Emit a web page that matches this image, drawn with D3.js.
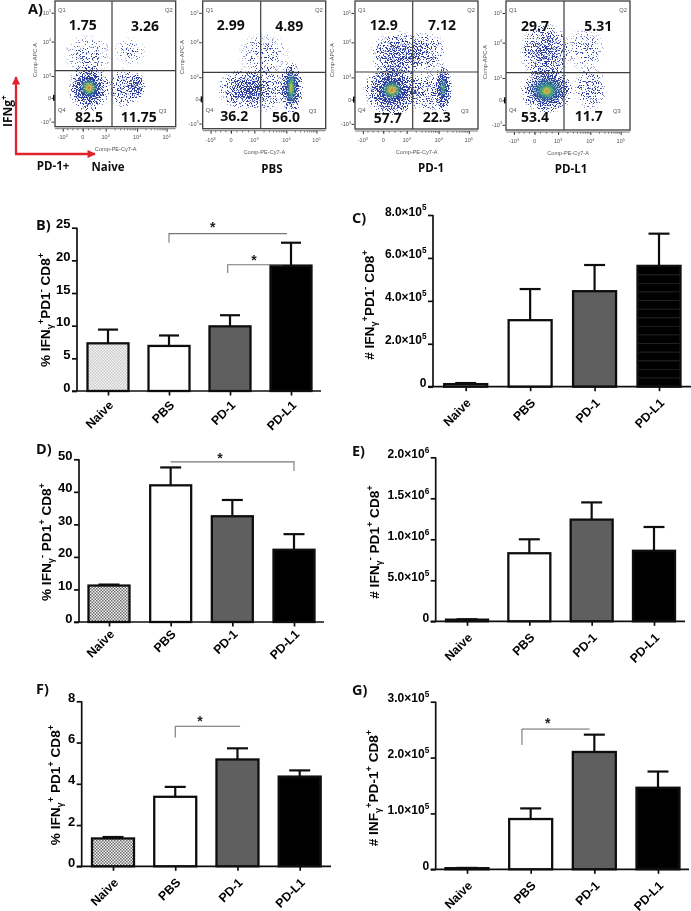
<!DOCTYPE html>
<html><head><meta charset="utf-8">
<script src="https://cdnjs.cloudflare.com/ajax/libs/d3/7.8.5/d3.min.js"></script>
<style>
html,body{margin:0;padding:0;background:#fff}
svg{display:block}
</style></head><body>
<svg id="fig" width="691" height="911"></svg>
<script>
// ---------- Bar panel data ----------
const categories = ["Naive", "PBS", "PD-1", "PD-L1"];
const panelB_values = [7.3, 6.9, 9.9, 19.2];
const panelB_tops   = [9.4, 8.5, 11.6, 22.7];
const panelC_values = [0.12e5, 3.1e5, 4.45e5, 5.63e5];
const panelC_tops   = [0.17e5, 4.55e5, 5.67e5, 7.13e5];
const panelD_values = [11.2, 42, 32.5, 22.2];
const panelD_tops   = [11.5, 47.5, 37.5, 27];
const panelE_values = [0.02e6, 0.83e6, 1.24e6, 0.86e6];
const panelE_tops   = [0.025e6, 1.0e6, 1.45e6, 1.15e6];
const panelF_values = [1.35, 3.37, 5.18, 4.35];
const panelF_tops   = [1.42, 3.85, 5.72, 4.65];
const panelG_values = [0.02e5, 0.9e5, 2.1e5, 1.46e5];
const panelG_tops   = [0.025e5, 1.09e5, 2.41e5, 1.75e5];
const ticksPct25 = [0, 5, 10, 15, 20, 25];
const ticksPct50 = [0, 10, 20, 30, 40, 50];
const ticksPct8  = [0, 2, 4, 6, 8];
const ticksC = [0, 2e5, 4e5, 6e5, 8e5];
const ticksE = [0, 5e5, 1e6, 1.5e6, 2e6];
const ticksG = [0, 1e5, 2e5, 3e5];
const labelsC = ["0", "2.0×10^5", "4.0×10^5", "6.0×10^5", "8.0×10^5"];
const labelsE = ["0", "5.0×10^5", "1.0×10^6", "1.5×10^6", "2.0×10^6"];
const labelsG = ["0", "1.0×10^5", "2.0×10^5", "3.0×10^5"];

// ---------- Flow plot data ----------
const flowTitles = ["Naive", "PBS", "PD-1", "PD-L1"];
const flowQ1 = ["1.75", "2.99", "12.9", "29.7"];
const flowQ2 = ["3.26", "4.89", "7.12", "5.31"];
const flowQ4 = ["82.5", "36.2", "57.7", "53.4"];
const flowQ3 = ["11.75", "56.0", "22.3", "11.7"];
const flowTicks = [-1, 0, 1, 2, 3];   // -10^3, 0, 10^3, 10^4, 10^5
const flowTickLabels = ["-10^3", "0", "10^3", "10^4", "10^5"];
// population estimates: [x, y, rx, ry] in decade units of the axes
const popsNaive = {
  hot:   [[0.27, 0.46, 0.42, 0.45]],
  warm:  [],
  blue:  [[0.27, 0.46, 0.95, 1.0]],
  mid:   [[2.0, 0.54, 0.3, 0.6]],
  sparse:[[1.615, 0.46, 0.62, 0.9]],
  faint: [[0.23, 1.61, 1.1, 0.65], [1.77, 1.72, 0.55, 0.45]]
};
const popsPBS = {
  hot:   [[2.16, 0.52, 0.12, 0.55]],
  warm:  [[2.16, 0.52, 0.2, 0.8]],
  blue:  [[2.16, 0.5, 0.42, 1.05]],
  mid:   [[0.53, 0.46, 1.1, 0.85]],
  sparse:[[1.3, 0.46, 0.85, 0.95]],
  faint: [[1.3, 1.65, 0.95, 0.7]]
};
const popsPD1 = {
  hot:   [[0.37, 0.43, 0.5, 0.45]],
  warm:  [[2.15, 0.52, 0.14, 0.5]],
  blue:  [[0.37, 0.43, 1.2, 1.05], [2.15, 0.52, 0.3, 1.0]],
  mid:   [[0.63, 1.65, 1.15, 0.75]],
  sparse:[[1.58, 1.75, 0.72, 0.65], [1.6, 0.35, 0.72, 0.9]],
  faint: []
};
const popsPDL1 = {
  hot:   [[0.52, 0.42, 0.42, 0.38]],
  warm:  [[0.52, 0.46, 0.72, 0.6]],
  blue:  [[0.52, 0.46, 1.1, 0.95]],
  mid:   [[0.45, 1.75, 1.05, 0.95]],
  sparse:[[2.0, 0.52, 0.55, 0.9]],
  faint: [[1.85, 1.8, 0.68, 0.7]]
};
const flowPops = [popsNaive, popsPBS, popsPD1, popsPDL1];

// ---------- Helpers ----------
const svg = d3.select("#fig");
const defs = svg.append("defs");
const ARIAL = "'Liberation Sans', Arial, sans-serif";
const OPEN = "'Open Sans', sans-serif";

function rich(sel, str) {
  sel.text(null);
  const parts = [];
  let buf = "";
  for (let i = 0; i < str.length; i++) {
    const c = str[i];
    if ((c === "^" || c === "_") && i + 1 < str.length) {
      if (buf) { parts.push([buf, 0]); buf = ""; }
      parts.push([str[++i], c === "^" ? -1 : 1]);
    } else buf += c;
  }
  if (buf) parts.push([buf, 0]);
  sel.each(function () {
    const t = d3.select(this);
    let prev = 0;
    parts.forEach(([s, m]) => {
      const fs = parseFloat(t.attr("font-size")) || 12;
      const off = m === -1 ? -0.42 * fs : m === 1 ? 0.22 * fs : 0;
      t.append("tspan").attr("dy", (off - prev).toFixed(2))
        .attr("font-size", m ? fs * 0.68 : fs).text(s);
      prev = off;
    });
  });
}

function dotPattern(id, c) {
  const p = defs.append("pattern").attr("id", id).attr("patternUnits", "userSpaceOnUse")
    .attr("width", 3).attr("height", 3);
  p.append("rect").attr("width", 3).attr("height", 3).attr("fill", "#f6f6f6");
  p.append("rect").attr("width", 1.5).attr("height", 1.5).attr("fill", c);
  p.append("rect").attr("x", 1.5).attr("y", 1.5).attr("width", 1.5).attr("height", 1.5).attr("fill", c);
}
dotPattern("dotLight", "#c8c8c8");
dotPattern("dotDark", "#6a6a6a");
const hatch = defs.append("pattern").attr("id", "hatch").attr("patternUnits", "userSpaceOnUse")
  .attr("width", 8).attr("height", 8.6);
hatch.append("rect").attr("width", 8).attr("height", 8.6).attr("fill", "#000");
hatch.append("rect").attr("y", 7.8).attr("width", 8).attr("height", 0.6).attr("fill", "#3a3a3a");

function grad(id, stops) {
  const g = defs.append("radialGradient").attr("id", id);
  stops.forEach(s => g.append("stop").attr("offset", s[0]).attr("stop-color", s[1]).attr("stop-opacity", s[2]));
}
grad("gHot", [[0, "#d86a34", .95], [.2, "#dcc044", .9], [.45, "#6fb458", .8], [.72, "#2f8f96", .45], [1, "#2a50a4", 0]]);
grad("gWarm", [[0, "#58b060", .85], [.45, "#3a9a8a", .6], [1, "#2a50a4", 0]]);
// density maps: alpha = how likely a pixel holds an event
const dens = (id, a) => grad(id, [[0, "#000", a], [.35, "#000", a * .88], [.7, "#000", a * .5], [.9, "#000", a * .16], [1, "#000", 0]]);
dens("gBlue", .9); dens("gMid", .62); dens("gSparse", .42); dens("gFaint", .26);

// events as blue specks: density alpha + noise, thresholded
const sp = defs.append("filter").attr("id", "speckle").attr("filterUnits", "userSpaceOnUse")
  .attr("x", 0).attr("y", 0).attr("width", 691).attr("height", 180).attr("color-interpolation-filters", "sRGB");
sp.append("feTurbulence").attr("type", "fractalNoise").attr("baseFrequency", 0.8)
  .attr("numOctaves", 2).attr("seed", 7).attr("result", "n");
sp.append("feColorMatrix").attr("in", "n").attr("type", "matrix")
  .attr("values", "0 0 0 0 0  0 0 0 0 0  0 0 0 0 0  3 0 0 0 -1.0").attr("result", "na");
sp.append("feComposite").attr("in", "SourceAlpha").attr("in2", "na").attr("operator", "arithmetic")
  .attr("k1", 0).attr("k2", 1).attr("k3", 1).attr("k4", -1).attr("result", "sum");
sp.append("feColorMatrix").attr("in", "sum").attr("type", "matrix")
  .attr("values", "0 0 0 0 0  0 0 0 0 0  0 0 0 0 0  0 0 0 5 0").attr("result", "mask");
sp.append("feFlood").attr("flood-color", "#2c3d9e").attr("flood-opacity", 1).attr("result", "col");
sp.append("feComposite").attr("in", "col").attr("in2", "mask").attr("operator", "in").attr("result", "dots");
sp.append("feGaussianBlur").attr("in", "dots").attr("stdDeviation", 0.35);

const soft = defs.append("filter").attr("id", "soft").attr("filterUnits", "userSpaceOnUse")
  .attr("x", 0).attr("y", 0).attr("width", 691).attr("height", 911);
soft.append("feGaussianBlur").attr("stdDeviation", 0.3);

const root = svg.append("g").attr("filter", "url(#soft)");
root.append("rect").attr("width", 691).attr("height", 911).attr("fill", "#fff");

// ---------- Panel A ----------
const flowLayout = [
  {x0: 55,    w: 120.7, h: 125.7, ly: 139, xl: 151, ax: 37,    ay: 60, title: 108, ty: 171},
  {x0: 202.7, w: 123,   h: 127.7, ly: 142, xl: 154, ax: 184,   ay: 57, title: 272, ty: 173},
  {x0: 355,   w: 123,   h: 128,   ly: 142, xl: 154, ax: 334,   ay: 60, title: 431, ty: 172},
  {x0: 506,   w: 124,   h: 129,   ly: 143, xl: 155, ax: 486.7, ay: 62, title: 571, ty: 173}
];
const numPos = [
  [[82.7, 30], [145, 30.5], [89, 122], [138.7, 122]],
  [[230.7, 30], [289.3, 31], [234.3, 121], [286, 122]],
  [[383.7, 30], [442, 30], [387.7, 123], [436.7, 122]],
  [[535, 31], [598.3, 31], [535, 122], [588.7, 121]]
];
const crossV = [112, 260.7, 412.7, 564];
const crossH = [70.7, 72.3, 72, 72.7];
const fxFrac = [.064, .23, .42, .68, .925];
const fyFrac = [.96, .77, .597, .323, .093];
const flowMinor = d3.merge([1, 2].map(d => d3.range(2, 10).map(k => d + Math.log10(k)))).concat(d3.range(-0.75, 1, 0.25));
const flowKinds = {hot: "gHot", warm: "gWarm", blue: "gBlue", mid: "gMid", sparse: "gSparse", faint: "gFaint"};

flowLayout.forEach((L, i) => {
  const y0 = 1;
  const fx = d3.scaleLinear().domain(flowTicks).range(fxFrac.map(f => L.x0 + f * L.w));
  const fy = d3.scaleLinear().domain(flowTicks).range(fyFrac.map(f => y0 + f * L.h));
  const g = root.append("g");
  const clipId = "clip" + i;
  defs.append("clipPath").attr("id", clipId).append("rect")
    .attr("x", L.x0).attr("y", y0).attr("width", L.w).attr("height", L.h);
  const clouds = g.append("g").attr("clip-path", `url(#${clipId})`);
  const speck = clouds.append("g").attr("filter", "url(#speckle)");
  const core = clouds.append("g");
  const pops = flowPops[i];
  const ell = (sel, arr, gr) => sel.selectAll(null).data(arr).join("ellipse")
    .attr("cx", d => fx(d[0])).attr("cy", d => fy(d[1]))
    .attr("rx", d => Math.abs(fx(d[0] + d[2]) - fx(d[0] - d[2])) / 2)
    .attr("ry", d => Math.abs(fy(d[1] + d[3]) - fy(d[1] - d[3])) / 2)
    .attr("fill", `url(#${gr})`);
  ["faint", "sparse", "mid", "blue"].forEach(k => { if (pops[k]) ell(speck.append("g"), pops[k], flowKinds[k]); });
  ["warm", "hot"].forEach(k => { if (pops[k]) ell(core.append("g"), pops[k], flowKinds[k]); });
  g.append("rect").attr("x", L.x0).attr("y", y0).attr("width", L.w).attr("height", L.h)
    .attr("fill", "none").attr("stroke", "#3c3c40").attr("stroke-width", 1.3);
  g.append("line").attr("x1", crossV[i]).attr("x2", crossV[i]).attr("y1", y0).attr("y2", y0 + L.h)
    .attr("stroke", "#3c3c40").attr("stroke-width", 1.2);
  g.append("line").attr("x1", L.x0).attr("x2", L.x0 + L.w).attr("y1", crossH[i]).attr("y2", crossH[i])
    .attr("stroke", "#3c3c40").attr("stroke-width", 1.2);
  const bottom = y0 + L.h + 2;
  const ax = g.append("g").attr("transform", `translate(0,${bottom})`)
    .call(d3.axisBottom(fx).tickValues(flowTicks).tickSize(3).tickFormat(""));
  ax.select(".domain").attr("stroke", "#555").attr("stroke-width", .8).attr("d", `M${L.x0},0H${L.x0 + L.w}`);
  ax.selectAll(".tick line").attr("stroke", "#333").attr("stroke-width", 1);
  g.append("g").attr("transform", `translate(0,${bottom})`).selectAll("line").data(flowMinor).join("line")
    .attr("x1", d => fx(d)).attr("x2", d => fx(d)).attr("y2", 1.7).attr("stroke", "#444").attr("stroke-width", .7);
  const ay = g.append("g").attr("transform", `translate(${L.x0 - 1},0)`)
    .call(d3.axisLeft(fy).tickValues(flowTicks).tickSize(2.5).tickFormat(""));
  ay.select(".domain").remove();
  ay.selectAll(".tick line").attr("stroke", "#333").attr("stroke-width", 1);
  g.append("rect").attr("x", L.x0 - 2).attr("y", fy(0) - 3).attr("width", 1.6).attr("height", 6).attr("fill", "#111");
  g.selectAll(null).data(flowTicks).join("text")
    .attr("x", d => fx(d)).attr("y", L.ly).attr("text-anchor", "middle")
    .attr("font-size", 5.6).attr("font-family", ARIAL).attr("fill", "#555")
    .each(function (d, k) { rich(d3.select(this), flowTickLabels[k]); });
  g.selectAll(null).data(flowTicks).join("text")
    .attr("x", L.x0 - 4).attr("y", d => fy(d) + 2).attr("text-anchor", "end")
    .attr("font-size", 5.6).attr("font-family", ARIAL).attr("fill", "#555")
    .each(function (d, k) { rich(d3.select(this), flowTickLabels[k]); });
  g.append("text").attr("x", fx(1) + 10).attr("y", L.xl).attr("text-anchor", "middle")
    .attr("font-size", 5.6).attr("font-family", ARIAL).attr("fill", "#555").text("Comp-PE-Cy7-A");
  g.append("text").attr("transform", `translate(${L.ax},${L.ay}) rotate(-90)`).attr("text-anchor", "middle")
    .attr("font-size", 5.6).attr("font-family", ARIAL).attr("fill", "#555").text("Comp-APC-A");
  [["Q1", L.x0 + 3, 12, "start"], ["Q2", L.x0 + L.w - 3, 12, "end"],
   ["Q4", L.x0 + 3, 112, "start"], ["Q3", L.x0 + L.w - 17, 113, "start"]].forEach(q => {
    g.append("text").attr("x", q[1]).attr("y", q[2]).attr("text-anchor", q[3])
      .attr("font-size", 5.8).attr("font-family", ARIAL).attr("fill", "#555").text(q[0]);
  });
  [flowQ1[i], flowQ2[i], flowQ4[i], flowQ3[i]].forEach((s, k) => {
    g.append("text").attr("x", numPos[i][k][0]).attr("y", numPos[i][k][1]).attr("text-anchor", "middle")
      .attr("font-size", 14).attr("font-weight", 700).attr("font-family", OPEN).attr("fill", "#111").text(s);
  });
  g.append("text").attr("x", L.title).attr("y", L.ty).attr("text-anchor", "middle")
    .attr("font-size", 11.5).attr("font-weight", 700).attr("font-family", OPEN).attr("fill", "#111").text(flowTitles[i]);
});

defs.append("marker").attr("id", "arr").attr("viewBox", "0 0 10 10").attr("refX", 9).attr("refY", 5)
  .attr("markerWidth", 4.5).attr("markerHeight", 3.6).attr("orient", "auto")
  .append("path").attr("d", "M0,0L10,5L0,10z").attr("fill", "#e0212a");
root.append("path").attr("d", d3.line()([[16, 154], [16, 77]])).attr("stroke", "#e0212a").attr("stroke-width", 2.3)
  .attr("fill", "none").attr("marker-end", "url(#arr)");
root.append("path").attr("d", d3.line()([[15, 154], [95, 154]])).attr("stroke", "#e0212a").attr("stroke-width", 2.3)
  .attr("fill", "none").attr("marker-end", "url(#arr)");
rich(root.append("text").attr("transform", "translate(12,127) rotate(-90)")
  .attr("font-size", 12).attr("font-weight", 700).attr("font-family", OPEN).attr("fill", "#111"), "IFNg^+");
root.append("text").attr("x", 53).attr("y", 170).attr("text-anchor", "middle")
  .attr("font-size", 11.5).attr("font-weight", 700).attr("font-family", OPEN).attr("fill", "#111").text("PD-1+");

// ---------- Panel letters ----------
[["A)", 28, 14], ["B)", 36, 230], ["C)", 352, 223], ["D)", 36, 454], ["E)", 352, 456], ["F)", 36, 694], ["G)", 352, 695]]
  .forEach(d => root.append("text").attr("x", d[1]).attr("y", d[2]).attr("font-size", 14.5).attr("font-weight", 700)
    .attr("font-family", OPEN).attr("fill", "#111").text(d[0]));

// ---------- Bar panels ----------
const barPanels = [
  {vals: panelB_values, tops: panelB_tops, domain: 25, ticks: ticksPct25, labels: null, ax: 77, end: 321, top: 227.7, zero: 391,
   xr: [108, 291], bw: 41, cap: 20, title: "% IFN_γ^+PD1^- CD8^+", tx: 50, ty: 310, dot: "dotLight", xdy: 15,
   br: [{a: 1, b: 3, db: -4, y: 24.1, dropA: 22.7}, {a: 2, da: -2.3, b: 3, db: -8, y: 19.33, dropA: 18.06}], st: [[212.7, 228], [254, 261]]},
  {vals: panelC_values, tops: panelC_tops, domain: 8e5, ticks: ticksC, labels: labelsC, ax: 433, end: 691, top: 215, zero: 386.7,
   xr: [465.7, 659], bw: 43, cap: 21, title: "# IFN_γ^+PD1^- CD8^+", tx: 374, ty: 305, dot: "dotDark", xdy: 17, hatch: true, br: [], st: []},
  {vals: panelD_values, tops: panelD_tops, domain: 50, ticks: ticksPct50, labels: null, ax: 79, end: 324, top: 459.3, zero: 622,
   xr: [109, 294], bw: 41, cap: 21, title: "% IFN_γ^- PD1^+ CD8^+", tx: 51, ty: 542, dot: "dotDark", xdy: 13,
   br: [{a: 1, b: 3, y: 49.2, dropB: 46.4}], st: [[220, 459]]},
  {vals: panelE_values, tops: panelE_tops, domain: 2e6, ticks: ticksE, labels: labelsE, ax: 435.7, end: 685, top: 457.3, zero: 621.3,
   xr: [467, 654], bw: 42, cap: 21, title: "# IFN_γ^- PD1^+ CD8^+", tx: 379, ty: 542, dot: "dotDark", xdy: 17, br: [], st: []},
  {vals: panelF_values, tops: panelF_tops, domain: 8, ticks: ticksPct8, labels: null, ax: 81.7, end: 331, top: 701.3, zero: 866.3,
   xr: [113, 299.7], bw: 42, cap: 21, title: "% IFN_γ^+ PD1^+ CD8^+", tx: 60, ty: 785, dot: "dotDark", xdy: 17,
   br: [{a: 1, b: 2, db: 2.6, y: 6.79, dropA: 6.24, thin: true}], st: [[200, 722]]},
  {vals: panelG_values, tops: panelG_tops, domain: 3e5, ticks: ticksG, labels: labelsG, ax: 435.7, end: 689, top: 701.7, zero: 869.3,
   xr: [467, 658], bw: 43, cap: 21, title: "# INF_γ^+PD-1^+ CD8^+", tx: 378, ty: 788, dot: "dotDark", xdy: 17,
   br: [{a: 1, da: -8.7, b: 2, db: -4.7, y: 2.51e5, dropA: 2.225e5, thin: true}], st: [[547.7, 724]]}
];

barPanels.forEach(P => {
  const g = root.append("g");
  const y = d3.scaleLinear().domain([0, P.domain]).range([P.zero, P.top]);
  const x = d3.scalePoint().domain(d3.range(categories.length)).range(P.xr);
  const fills = [`url(#${P.dot})`, "#fff", "#5e5e5e", P.hatch ? "url(#hatch)" : "#000"];
  const lfs = P.labels ? 12 : 13;
  g.selectAll(null).data(P.vals).join("line")
    .attr("x1", (d, i) => x(i)).attr("x2", (d, i) => x(i))
    .attr("y1", d => y(d)).attr("y2", (d, i) => y(P.tops[i]))
    .attr("stroke", "#111").attr("stroke-width", 2.2);
  g.selectAll(null).data(P.tops).join("line")
    .attr("x1", (d, i) => x(i) - P.cap / 2).attr("x2", (d, i) => x(i) + P.cap / 2)
    .attr("y1", d => y(d)).attr("y2", d => y(d))
    .attr("stroke", "#111").attr("stroke-width", 2.2);
  g.selectAll(null).data(P.vals).join("rect")
    .attr("x", (d, i) => x(i) - P.bw / 2).attr("width", P.bw)
    .attr("y", d => y(d)).attr("height", d => y(0) - y(d))
    .attr("fill", (d, i) => fills[i]).attr("stroke", "#111").attr("stroke-width", 2.3);
  const ya = g.append("g").attr("transform", `translate(${P.ax},0)`)
    .call(d3.axisLeft(y).tickValues(P.ticks).tickSize(5).tickPadding(1.5)
      .tickFormat((d, i) => P.labels ? P.labels[i] : d));
  ya.select(".domain").attr("stroke", "#111").attr("stroke-width", 1.7).attr("d", `M0,${P.zero}V${P.top}`);
  ya.selectAll(".tick line").attr("stroke", "#111").attr("stroke-width", 1.7);
  ya.selectAll(".tick text").attr("font-size", lfs).attr("font-weight", 700).attr("font-family", ARIAL).attr("fill", "#000")
    .each(function (d, i) { rich(d3.select(this), P.labels ? P.labels[i] : String(d)); });
  const xa = g.append("g").attr("transform", `translate(0,${P.zero})`)
    .call(d3.axisBottom(x).tickSize(4.5).tickFormat(""));
  xa.select(".domain").attr("stroke", "#111").attr("stroke-width", 1.7).attr("d", `M${P.ax - 5},0H${P.end}`);
  xa.selectAll(".tick line").attr("stroke", "#111").attr("stroke-width", 1.7);
  g.selectAll(null).data(categories).join("text")
    .attr("transform", (d, i) => `translate(${x(i) + 6},${P.zero + P.xdy}) rotate(-45)`)
    .attr("text-anchor", "end").attr("font-size", 12.3).attr("font-weight", 700).attr("font-family", ARIAL).attr("fill", "#000")
    .text(d => d);
  rich(g.append("text").attr("transform", `translate(${P.tx},${P.ty}) rotate(-90)`).attr("text-anchor", "middle")
    .attr("font-size", 13.6).attr("font-weight", 700).attr("font-family", ARIAL).attr("fill", "#000"), P.title);
  P.br.forEach(b => {
    const xa_ = x(b.a) + (b.da || 0), xb_ = x(b.b) + (b.db || 0);
    const pts = [];
    if (b.dropA !== undefined) pts.push([xa_, y(b.dropA)]);
    pts.push([xa_, y(b.y)], [xb_, y(b.y)]);
    if (b.dropB !== undefined) pts.push([xb_, y(b.dropB)]);
    g.append("path").attr("d", d3.line()(pts)).attr("fill", "none")
      .attr("stroke", b.thin ? "#555" : "#777").attr("stroke-width", b.thin ? 0.9 : 1.1);
  });
  P.st.forEach(s => g.append("text").attr("x", s[0]).attr("y", s[1] + 4).attr("text-anchor", "middle")
    .attr("font-size", 14).attr("font-weight", 700).attr("font-family", ARIAL).attr("fill", "#222").text("*"));
});
</script>
</body></html>
